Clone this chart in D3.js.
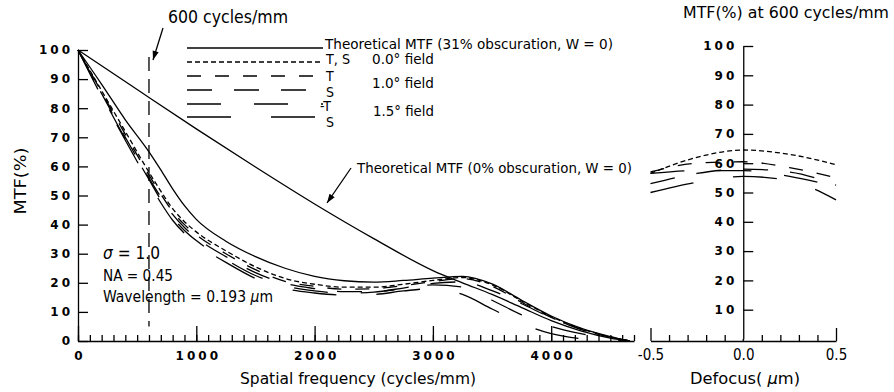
<!DOCTYPE html>
<html>
<head>
<meta charset="utf-8">
<script src="https://cdn.jsdelivr.net/npm/d3@7"></script>
<style>
html,body{margin:0;padding:0;background:#fff}
svg{display:block}
.lbl{font-family:'Liberation Sans Narrow','DejaVu Sans Condensed','Liberation Sans',sans-serif;fill:#000}
.tk text{font-family:'DejaVu Sans',sans-serif;font-weight:bold;font-size:12px;letter-spacing:3px;fill:#000}
.tk line,.tk path{stroke:#000;stroke-width:1.3}
.curve{fill:none;stroke:#000;stroke-width:1.3}
</style>
</head>
<body>
<svg id="chart" width="894" height="392"></svg>
<script>
// spatial frequency (cycles/mm) for the 31% obscuration and measured curves
const freq = [0, 200, 400, 600, 700, 800, 900, 1000, 1250, 1500, 1750, 2000, 2250, 2500, 2750, 3000, 3250, 3500, 3750, 4000, 4250, 4500, 4663];
const theo31   = [100, 88.2, 76, 65, 58.8, 52.3, 46.5, 41.8, 34.3, 29, 25, 22.2, 20.7, 20.2, 20.8, 21.6, 22.2, 19.6, 14, 8.6, 4.4, 1.5, 0];
const field00  = [100, 86, 72, 58, 51.5, 45.5, 41, 37.5, 31, 25.5, 21.5, 19.5, 18.5, 18.5, 19.5, 20.8, 21.8, 19.3, 13.8, 8.4, 4.3, 1.4, 0];
const fieldT10 = [100, 85.5, 71, 57, 50.5, 44.5, 40, 36.5, 30, 24.5, 20.5, 18.8, 17.8, 18, 19, 20.4, 21.4, 18.8, 13.3, 8.1, 4.1, 1.3, 0];
const fieldS10 = [100, 85, 70, 56, 49.5, 43.5, 39, 35.5, 29, 23.5, 19.8, 18, 17, 17, 18.2, 19.8, 20.3, 17.3, 12.8, 8, 4, 1.3, 0];
const fieldT15 = [100, 84.5, 69.5, 55.5, 48.5, 42.5, 38, 34.5, 28, 22.5, 19, 17.2, 16.4, 16.8, 18, 19.3, 18.5, 14, 9, 5, 2.5, 0.8, 0];
const fieldS15 = [100, 84, 69, 54.5, 47.5, 41.5, 37, 33.5, 27, 21.5, 18, 16.5, 15.8, 16, 17.2, 18, 16, 11, 6, 2.5, 0.8, 0.2, 0];

// theoretical MTF, 0% obscuration
const freq0 = [0, 500, 1000, 1500, 2000, 2500, 3000, 3250, 3500, 3750, 4000, 4250, 4500, 4663];
const theo0 = [100, 86.4, 72.9, 59.8, 47.1, 35.2, 24.2, 20, 16, 11.5, 7, 3.5, 1, 0];

// MTF at 600 cycles/mm versus defocus (um)
const defocus = [-0.5, -0.25, 0, 0.25, 0.5];
const dfd00 = [56.5, 62, 64.5, 63, 59.5];
const dfdT10 = [57, 60, 60.5, 58.5, 55];
const dfdS10 = [53, 56.5, 58, 57, 52.5];
const dfdT15 = [56.5, 57.5, 57.5, 55.5, 52];
const dfdS15 = [50, 53.5, 55.5, 54, 47.5];

const mtfTicks = [0, 10, 20, 30, 40, 50, 60, 70, 80, 90, 100];
const mtfTicksRight = [10, 20, 30, 40, 50, 60, 70, 80, 90, 100];
const freqTicks = [0, 1000, 2000, 3000, 4000];
const defocusTicks = [-0.5, 0, 0.5];
const defocusTickText = ['-0.5', '0.0', '0.5'];

const dashes = { d00: '5,3', T10: '14,14', S10: '25,22', T15: '34,33', S15: '44,40' };

const svg = d3.select('#chart');

svg.append('defs').append('marker')
  .attr('id', 'ah').attr('viewBox', '0 0 10 10').attr('refX', 10).attr('refY', 5)
  .attr('markerWidth', 11).attr('markerHeight', 9).attr('markerUnits', 'userSpaceOnUse')
  .attr('orient', 'auto')
  .append('path').attr('d', 'M0,1.5L10,5L0,8.5Z').attr('fill', '#000');

function label(txt, px, py, size, len, anchor) {
  const t = svg.append('text').attr('class', 'lbl').attr('x', px).attr('y', py)
    .style('font-size', size + 'px').attr('text-anchor', anchor || 'start').text(txt);
  if (len) t.attr('textLength', len).attr('lengthAdjust', 'spacingAndGlyphs');
  return t;
}

// ---- left panel: MTF vs spatial frequency
const x = d3.scaleLinear().domain([0, 4700]).range([78, 634]);
const y = d3.scaleLinear().domain([0, 100]).range([341, 50]);

svg.append('g').attr('class', 'tk').attr('transform', 'translate(78,0)')
  .call(d3.axisLeft(y).tickValues(mtfTicks).tickSizeInner(-10).tickSizeOuter(0).tickPadding(5));

svg.append('g').attr('class', 'tk').attr('transform', 'translate(0,341)')
  .call(d3.axisBottom(x).tickValues(d3.range(0, 4701, 100)).tickSizeInner(-6).tickSizeOuter(0).tickFormat(''));
const xMaj = svg.append('g').attr('class', 'tk').attr('transform', 'translate(0,341)')
  .call(d3.axisBottom(x).tickValues(freqTicks).tickSizeInner(-15).tickSizeOuter(0).tickPadding(10)
    .tickFormat(d3.format('d')));
xMaj.select('.domain').remove();
xMaj.selectAll('text').attr('dx', '1.5');

const line = d3.line().x(d => x(d[0])).y(d => y(d[1])).curve(d3.curveMonotoneX);
const leftSeries = [
  { v: theo31, dash: null },
  { v: field00, dash: dashes.d00 },
  { v: fieldT10, dash: dashes.T10 },
  { v: fieldS10, dash: dashes.S10 },
  { v: fieldT15, dash: dashes.T15 },
  { v: fieldS15, dash: dashes.S15 },
];
leftSeries.forEach(s => {
  svg.append('path').attr('class', 'curve')
    .attr('d', line(freq.map((f, i) => [f, s.v[i]])))
    .attr('stroke-dasharray', s.dash);
});
svg.append('path').attr('class', 'curve').attr('d', line(freq0.map((f, i) => [f, theo0[i]])));

// 600 cycles/mm marker
svg.append('line').attr('x1', x(600)).attr('x2', x(600)).attr('y1', 57).attr('y2', y(5))
  .attr('stroke', '#000').attr('stroke-width', 1.3).attr('stroke-dasharray', '14,8');
label('600 cycles/mm', 168, 23, 17, 120);
svg.append('line').attr('x1', 163).attr('y1', 28).attr('x2', 153).attr('y2', 60)
  .attr('stroke', '#000').attr('stroke-width', 1.3).attr('marker-end', 'url(#ah)');

// legend
const legRows = [
  { yy: 48, dash: null },
  { yy: 62, dash: dashes.d00 },
  { yy: 76, dash: dashes.T10 },
  { yy: 90, dash: dashes.S10 },
  { yy: 104, dash: dashes.T15 },
  { yy: 117, dash: dashes.S15 },
];
legRows.forEach(r => {
  svg.append('line').attr('x1', 187).attr('x2', 323).attr('y1', r.yy).attr('y2', r.yy)
    .attr('stroke', '#000').attr('stroke-width', 1.3).attr('stroke-dasharray', r.dash);
});
label('Theoretical MTF (31% obscuration, W = 0)', 325, 49, 14, 288);
label('T, S', 326, 64, 14, 24);
label('0.0° field', 372, 64, 14, 62);
label('T', 326, 81, 14);
label('1.0° field', 372, 88, 14, 62);
label('S', 326, 97, 14);
label('-T', 320, 111, 14);
label('1.5° field', 373, 116, 14, 61);
label('S', 326, 127, 14);

label('Theoretical MTF (0% obscuration, W = 0)', 357, 173, 14, 275);
svg.append('line').attr('x1', 351).attr('y1', 168).attr('x2', 327).attr('y2', 203)
  .attr('stroke', '#000').attr('stroke-width', 1.3).attr('marker-end', 'url(#ah)');

const sig = label('', 103, 259, 18, 57);
sig.append('tspan').style('font-style', 'italic').text('σ');
sig.append('tspan').text(' = 1.0');
label('NA = 0.45', 103, 281, 15, 70);
const wl = label('Wavelength = 0.193  ', 103, 302, 15, 170);
wl.append('tspan').style('font-style', 'italic').text('μ');
wl.append('tspan').text('m');

label('Spatial frequency (cycles/mm)', 240, 384, 16, 236);
label('MTF(%)', 0, 0, 16, 67, 'middle').attr('transform', 'translate(26,181) rotate(-90)');

// ---- right panel: MTF at 600 cycles/mm vs defocus
const xr = d3.scaleLinear().domain([-0.5, 0.5]).range([650.5, 836]);
const yr = d3.scaleLinear().domain([0, 100]).range([339, 46]);

svg.append('g').attr('class', 'tk').attr('transform', `translate(${xr(0)},0)`)
  .call(d3.axisLeft(yr).tickValues(mtfTicksRight).tickSizeInner(-10).tickSizeOuter(0).tickPadding(6));
svg.append('line').attr('x1', xr(0)).attr('x2', xr(0)).attr('y1', yr(0)).attr('y2', 341)
  .attr('stroke', '#000').attr('stroke-width', 1.3);

svg.append('g').attr('class', 'tk').attr('transform', 'translate(0,341)')
  .call(d3.axisBottom(xr).tickValues([-0.4, -0.3, -0.2, -0.1, 0.1, 0.2, 0.3, 0.4]).tickSizeInner(-6).tickSizeOuter(0).tickFormat(''));
const xrEnd = svg.append('g').attr('class', 'tk').attr('transform', 'translate(0,341)')
  .call(d3.axisBottom(xr).tickValues([-0.5, 0.5]).tickSizeInner(-13).tickSizeOuter(0).tickFormat(''));
xrEnd.select('.domain').remove();
const xrLab = svg.append('g').attr('transform', 'translate(0,341)')
  .call(d3.axisBottom(xr).tickValues(defocusTicks).tickSize(0).tickPadding(8)
    .tickFormat((d, i) => defocusTickText[i]));
xrLab.select('.domain').remove();
xrLab.selectAll('text').attr('class', 'lbl').style('font-size', '15px');

const lineR = d3.line().x(d => xr(d[0])).y(d => yr(d[1])).curve(d3.curveMonotoneX);
const rightSeries = [
  { v: dfd00, dash: dashes.d00 },
  { v: dfdT10, dash: dashes.T10 },
  { v: dfdS10, dash: dashes.S10 },
  { v: dfdT15, dash: dashes.T15 },
  { v: dfdS15, dash: dashes.S15 },
];
rightSeries.forEach(s => {
  svg.append('path').attr('class', 'curve')
    .attr('d', lineR(defocus.map((f, i) => [f, s.v[i]])))
    .attr('stroke-dasharray', s.dash);
});

label('MTF(%) at 600 cycles/mm', 683, 18, 15, 206);
const dl = label('Defocus( ', 690, 384, 16, 110);
dl.append('tspan').style('font-style', 'italic').text('μ');
dl.append('tspan').text('m)');
</script>
</body>
</html>
